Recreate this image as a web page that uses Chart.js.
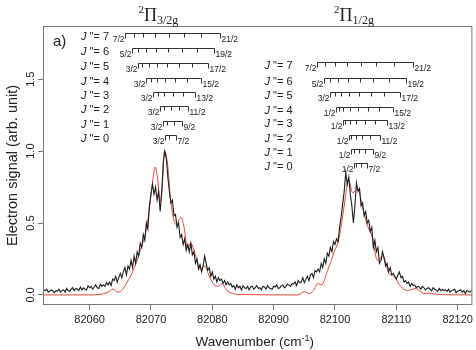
<!DOCTYPE html>
<html>
<head>
<meta charset="utf-8">
<script src="https://cdn.jsdelivr.net/npm/chart.js@4.4.1/dist/chart.umd.min.js"></script>
<style>
html, body { margin: 0; padding: 0; background: #fff; }
#wrap { width: 476px; height: 350px; }
</style>
</head>
<body>
<div id="wrap"><canvas id="spectrum"></canvas></div>
<script>
const xTicks = [82060, 82070, 82080, 82090, 82100, 82110, 82120];
const yTicks = [0.0, 0.5, 1.0, 1.5];
const yTickLabels = ['0.0', '0.5', '1.0', '1.5'];

// measured electron signal, one value every 0.25 cm-1 starting at 82052.5
const exptStart = 82052.5;
const exptStep = 0.25;
const exptSignal = [
  0.035,0.03,0.04,0.02,0.025,0.035,0.03,0.015,0.03,0.025,0.04,0.02,0.03,0.035,0.02,0.045,0.03,0.025,0.04,0.05,
  0.03,0.045,0.04,0.03,0.055,0.035,0.05,0.04,0.035,0.065,0.05,0.06,0.04,0.055,0.07,0.05,0.045,0.075,0.06,0.07,
  0.06,0.085,0.07,0.09,0.065,0.11,0.1,0.13,0.09,0.12,0.15,0.12,0.16,0.19,0.14,0.2,0.18,0.24,0.19,0.27,
  0.22,0.3,0.27,0.36,0.33,0.42,0.38,0.5,0.46,0.62,0.7,0.77,0.7,0.75,0.66,0.72,0.58,0.7,0.92,1.0,
  0.95,0.82,0.72,0.64,0.66,0.55,0.56,0.47,0.5,0.4,0.42,0.35,0.39,0.31,0.35,0.3,0.36,0.28,0.3,0.22,
  0.25,0.18,0.21,0.16,0.2,0.27,0.22,0.17,0.19,0.13,0.16,0.11,0.13,0.09,0.12,0.1,0.11,0.08,0.1,0.07,
  0.09,0.07,0.08,0.055,0.065,0.04,0.07,0.05,0.06,0.035,0.065,0.05,0.045,0.06,0.035,0.055,0.06,0.04,0.05,0.065,
  0.045,0.05,0.035,0.06,0.055,0.04,0.065,0.05,0.045,0.04,0.06,0.055,0.07,0.045,0.05,0.065,0.07,0.05,0.06,0.075,
  0.07,0.06,0.08,0.075,0.09,0.065,0.1,0.085,0.09,0.12,0.085,0.11,0.13,0.1,0.14,0.15,0.12,0.17,0.16,0.18,
  0.16,0.22,0.19,0.25,0.22,0.29,0.27,0.33,0.3,0.37,0.35,0.39,0.37,0.47,0.54,0.63,0.72,0.85,0.77,0.82,
  0.7,0.62,0.5,0.62,0.78,0.72,0.74,0.62,0.64,0.55,0.58,0.5,0.52,0.44,0.47,0.33,0.38,0.3,0.33,0.22,
  0.24,0.3,0.26,0.2,0.22,0.16,0.19,0.14,0.15,0.13,0.11,0.14,0.16,0.12,0.13,0.09,0.1,0.08,0.09,0.06,
  0.08,0.065,0.07,0.05,0.06,0.055,0.04,0.06,0.05,0.035,0.045,0.05,0.04,0.03,0.05,0.04,0.035,0.025,0.045,0.03,
  0.04,0.03,0.035,0.025,0.04,0.02,0.03,0.035,0.04,0.015,0.025,0.03,0.035,0.02,0.03,0.01,0.03,0.025,0.02,0.03
];

// simulated spectrum
const simX = [82052.4,82060.0,82062.0,82063.0,82063.8,82064.6,82065.2,82066.0,82067.0,82068.1,82069.2,82069.8,
  82070.3,82070.7,82071.1,82071.5,82071.9,82072.2,82072.7,82073.2,82074.1,82074.9,82075.4,82075.9,82076.5,
  82077.3,82078.0,82078.8,82079.5,82080.3,82081.0,82081.6,82082.3,82083.3,82084.5,82094.0,82095.0,82095.8,
  82096.5,82097.2,82097.8,82098.8,82099.9,82100.7,82101.5,82102.2,82102.9,82103.7,82104.5,82105.3,82106.1,
  82106.9,82107.8,82108.8,82109.6,82110.7,82111.8,82113.1,82114.5,82115.6,82117.0,82122.4];
const simY = [0.0,0.0,0.005,0.02,0.04,0.02,0.03,0.08,0.16,0.29,0.45,0.62,
  0.80,0.89,0.80,0.65,0.80,1.00,0.91,0.66,0.49,0.54,0.47,0.33,0.36,
  0.27,0.18,0.20,0.13,0.07,0.06,0.08,0.035,0.01,0.003,0.0,0.023,0.01,
  0.03,0.08,0.07,0.17,0.30,0.40,0.62,0.80,0.71,0.74,0.61,0.48,0.40,
  0.24,0.27,0.15,0.13,0.06,0.03,0.045,0.01,0.012,0.002,0.0];

// band headings
const bandCentre = [82071.2, 82103.1];
const bandSub = ['3/2g', '1/2g'];

// rotational ladders, listed J"=7 down to J"=0
const ladderJ = [7, 6, 5, 4, 3, 2, 1, 0];
const ladderLo = [
  ['7/2','5/2','3/2','3/2','3/2','3/2','3/2','3/2'],
  ['7/2','5/2','3/2','1/2','1/2','1/2','1/2','1/2']
];
const ladderHi = ['21/2','19/2','17/2','15/2','13/2','11/2','9/2','7/2'];
const ladderLabelX = [82058.6, 82088.5];
const ladderY = [
  [1.82, 1.715, 1.61, 1.507, 1.41, 1.313, 1.208, 1.111],
  [1.618, 1.509, 1.412, 1.308, 1.215, 1.111, 1.012, 0.915]
];
const ladderTicks = [
  [
    [82065.84,82067.16,82068.76,82070.66,82072.86,82075.34,82078.12,82081.19],
    [82066.92,82067.95,82069.27,82070.88,82072.79,82074.98,82077.48,82080.27],
    [82067.83,82068.58,82069.62,82070.96,82072.60,82074.53,82076.77,82079.30],
    [82069.19,82069.93,82070.97,82072.31,82073.94,82075.88,82078.11],
    [82070.38,82071.14,82072.20,82073.56,82075.22,82077.19],
    [82071.46,82072.18,82073.20,82074.50,82076.10],
    [82071.90,82072.65,82073.69,82075.03],
    [82072.27,82073.02,82074.06]
  ],
  [
    [82097.08,82098.41,82100.04,82101.97,82104.20,82106.72,82109.54,82112.65],
    [82098.15,82099.18,82100.50,82102.12,82104.03,82106.23,82108.73,82111.52],
    [82099.19,82099.93,82100.96,82102.29,82103.91,82105.82,82108.03,82110.54],
    [82100.17,82100.61,82101.35,82102.38,82103.71,82105.34,82107.25,82109.46],
    [82101.24,82101.69,82102.44,82103.49,82104.84,82106.49,82108.44],
    [82102.21,82102.65,82103.39,82104.41,82105.74,82107.35],
    [82102.65,82103.10,82103.85,82104.91,82106.26],
    [82103.02,82103.47,82104.23,82105.29]
  ]
];

const SANS = '"Liberation Sans", Arial, sans-serif';
const SERIF = '"Liberation Serif", "DejaVu Serif", serif';

const exptPoints = exptSignal.map((v, i) => ({ x: exptStart + i * exptStep, y: v }));
const simPoints = simX.map((x, i) => ({ x: x, y: simY[i] }));

function drawBand(ctx, cx, base, sub) {
  ctx.font = '11px ' + SERIF;
  const wSup = ctx.measureText('2').width;
  ctx.font = '18px ' + SERIF;
  const wPi = ctx.measureText('\u03A0').width;
  ctx.font = '12px ' + SERIF;
  const wSub = ctx.measureText(sub).width;
  let x = cx - (wSup + wPi + wSub) / 2;
  ctx.textAlign = 'left';
  ctx.textBaseline = 'alphabetic';
  ctx.font = '11px ' + SERIF;
  ctx.fillText('2', x, base - 8);
  x += wSup;
  ctx.font = '18px ' + SERIF;
  ctx.fillText('\u03A0', x, base);
  x += wPi;
  ctx.font = '12px ' + SERIF;
  ctx.fillText(sub, x, base + 3);
}

const decorations = {
  id: 'decorations',
  afterDraw(chart) {
    const ctx = chart.ctx;
    const a = chart.chartArea;
    const xs = chart.scales.x;
    const ys = chart.scales.y;
    ctx.save();

    // frame
    ctx.strokeStyle = '#777';
    ctx.lineWidth = 1;
    ctx.strokeRect(a.left + 0.5, a.top + 0.5, a.right - a.left - 1, a.bottom - a.top - 1);

    ctx.fillStyle = '#222';
    // y tick labels, rotated
    ctx.font = '11px ' + SANS;
    ctx.textAlign = 'center';
    ctx.textBaseline = 'middle';
    yTicks.forEach((v, i) => {
      ctx.save();
      ctx.translate(31, ys.getPixelForValue(v));
      ctx.rotate(-Math.PI / 2);
      ctx.fillText(yTickLabels[i], 0, 0);
      ctx.restore();
    });

    // y title
    ctx.save();
    ctx.translate(13, (a.top + a.bottom) / 2);
    ctx.rotate(-Math.PI / 2);
    ctx.font = '14.5px ' + SANS;
    ctx.fillText('Electron signal (arb. unit)', 0, 0);
    ctx.restore();

    // x title with superscript
    ctx.textBaseline = 'alphabetic';
    ctx.textAlign = 'left';
    ctx.font = '13.5px ' + SANS;
    const t1 = 'Wavenumber (cm', t3 = ')';
    const w1 = ctx.measureText(t1).width, w3 = ctx.measureText(t3).width;
    ctx.font = '9px ' + SANS;
    const w2 = ctx.measureText('-1').width;
    let tx = (a.left + a.right) / 2 - (w1 + w2 + w3) / 2 - 3;
    const ty = 346;
    ctx.font = '13.5px ' + SANS;
    ctx.fillText(t1, tx, ty);
    ctx.font = '9px ' + SANS;
    ctx.fillText('-1', tx + w1, ty - 5);
    ctx.font = '13.5px ' + SANS;
    ctx.fillText(t3, tx + w1 + w2, ty);

    // panel tag
    ctx.font = '15px ' + SANS;
    ctx.fillText('a)', a.left + 10, a.top + 20);

    // band headings
    bandCentre.forEach((c, i) => drawBand(ctx, xs.getPixelForValue(c), 21, bandSub[i]));

    // ladders
    ctx.strokeStyle = '#333';
    ctx.lineWidth = 1;
    for (let g = 0; g < 2; g++) {
      const lx = xs.getPixelForValue(ladderLabelX[g]);
      ladderJ.forEach((j, k) => {
        const py = Math.round(ys.getPixelForValue(ladderY[g][k])) + 0.5;
        const ticks = ladderTicks[g][k].map(v => Math.round(xs.getPixelForValue(v)) + 0.5);
        const x0 = ticks[0], x1 = ticks[ticks.length - 1];
        ctx.beginPath();
        ctx.moveTo(x0, py);
        ctx.lineTo(x1, py);
        ticks.forEach((tpx, n) => {
          const len = (n === 0 || n === ticks.length - 1) ? 5 : 4;
          ctx.moveTo(tpx, py);
          ctx.lineTo(tpx, py + len);
        });
        ctx.stroke();

        ctx.font = '8.5px ' + SANS;
        ctx.textBaseline = 'middle';
        ctx.textAlign = 'right';
        ctx.fillText(ladderLo[g][k], x0 - 1, py + 6);
        ctx.textAlign = 'left';
        ctx.fillText(ladderHi[k], x1 + 1, py + 6);

        ctx.font = 'italic 11px ' + SANS;
        ctx.fillText('J', lx, py + 3);
        const wJ = ctx.measureText('J').width;
        ctx.font = '11px ' + SANS;
        ctx.fillText(' "= ' + j, lx + wJ, py + 3);
      });
    }
    ctx.restore();
  }
};

new Chart(document.getElementById('spectrum'), {
  type: 'line',
  data: {
    datasets: [
      { label: 'experiment', data: exptPoints, borderColor: '#1e1e1e', borderWidth: 1.1,
        pointRadius: 0, tension: 0 },
      { label: 'simulation', data: simPoints, borderColor: '#e5453a', borderWidth: 1,
        pointRadius: 0, cubicInterpolationMode: 'monotone' }
    ]
  },
  options: {
    responsive: true,
    maintainAspectRatio: false,
    animation: false,
    layout: { padding: { top: 26, right: 1, left: 0, bottom: 0 } },
    plugins: { legend: { display: false }, tooltip: { enabled: false } },
    scales: {
      x: {
        type: 'linear', min: 82052.4, max: 82122.4,
        afterBuildTicks: s => { s.ticks = xTicks.map(v => ({ value: v })); },
        afterFit: s => { s.height = 45; },
        grid: { drawOnChartArea: false, drawTicks: true, tickLength: 5, color: '#777' },
        border: { display: false },
        ticks: { font: { family: SANS, size: 11 }, color: '#222', padding: 3,
          maxRotation: 0, callback: v => String(v) }
      },
      y: {
        type: 'linear', min: -0.07, max: 1.87,
        afterBuildTicks: s => { s.ticks = yTicks.map(v => ({ value: v })); },
        afterFit: s => { s.width = 43; },
        grid: { drawOnChartArea: false, drawTicks: true, tickLength: 5, color: '#777' },
        border: { display: false },
        ticks: { display: false }
      }
    }
  },
  plugins: [decorations]
});
</script>
</body>
</html>
